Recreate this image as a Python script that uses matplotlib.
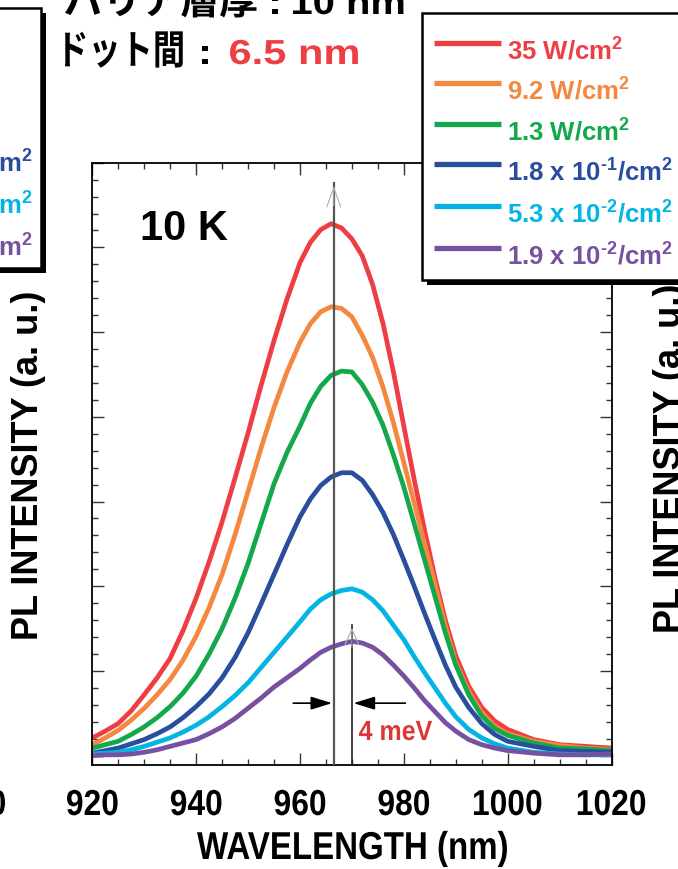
import matplotlib
matplotlib.use('Agg')
import matplotlib.pyplot as plt
from matplotlib.patches import Rectangle, PathPatch
from matplotlib.textpath import TextPath
from matplotlib.font_manager import FontProperties
from matplotlib.transforms import Affine2D
from matplotlib.ticker import MultipleLocator

plt.rcParams['font.family'] = ['Liberation Sans', 'DejaVu Sans']
plt.rcParams['font.weight'] = 'bold'
plt.rcParams['mathtext.fontset'] = 'custom'
plt.rcParams['mathtext.rm'] = 'Liberation Sans:bold'
plt.rcParams['mathtext.bf'] = 'Liberation Sans:bold'
plt.rcParams['mathtext.it'] = 'Liberation Sans:bold'

# PL spectra at 10 K, one per excitation power (arbitrary units)
wavelength = [920, 922.5, 925, 927.5, 930, 932.5, 935, 937.5, 940, 942.5, 945, 947.5,
              950, 952.5, 955, 957.5, 960, 962, 964, 966, 968, 970, 972, 974, 976, 978,
              980, 982, 984, 986, 988, 990, 992.5, 995, 997.5, 1000, 1005, 1010, 1015, 1020]
pl_35 = [0.21, 0.29, 0.38, 0.53, 0.72, 0.92, 1.15, 1.48, 1.86, 2.29, 2.76, 3.28,
         3.81, 4.37, 4.90, 5.39, 5.82, 6.06, 6.21, 6.28, 6.23, 6.10, 5.90, 5.56, 5.10, 4.53,
         3.89, 3.26, 2.66, 2.10, 1.60, 1.18, 0.82, 0.57, 0.41, 0.31, 0.19, 0.13, 0.11, 0.09]
pl_9_2 = [0.13, 0.21, 0.30, 0.42, 0.56, 0.72, 0.90, 1.13, 1.41, 1.75, 2.14, 2.61,
          3.12, 3.63, 4.11, 4.53, 4.88, 5.10, 5.24, 5.30, 5.28, 5.18, 4.96, 4.70, 4.35, 3.93,
          3.46, 2.98, 2.50, 2.02, 1.53, 1.10, 0.76, 0.51, 0.35, 0.26, 0.17, 0.12, 0.09, 0.07]
pl_1_3 = [0.09, 0.13, 0.17, 0.25, 0.34, 0.45, 0.58, 0.74, 0.94, 1.20, 1.50, 1.86,
          2.27, 2.74, 3.21, 3.58, 3.89, 4.16, 4.36, 4.49, 4.54, 4.53, 4.38, 4.17, 3.90, 3.55,
          3.17, 2.74, 2.31, 1.88, 1.45, 1.07, 0.72, 0.47, 0.32, 0.24, 0.15, 0.09, 0.08, 0.06]
pl_0_18 = [0.03, 0.06, 0.09, 0.14, 0.19, 0.26, 0.34, 0.45, 0.58, 0.73, 0.92, 1.16,
           1.45, 1.79, 2.14, 2.49, 2.82, 3.03, 3.19, 3.29, 3.34, 3.34, 3.25, 3.08, 2.87, 2.61,
           2.31, 2.00, 1.68, 1.37, 1.07, 0.81, 0.57, 0.38, 0.25, 0.17, 0.11, 0.06, 0.05, 0.04]
pl_0_053 = [0.02, 0.03, 0.04, 0.07, 0.11, 0.16, 0.21, 0.28, 0.36, 0.46, 0.58, 0.71,
            0.86, 1.04, 1.22, 1.40, 1.58, 1.73, 1.84, 1.91, 1.95, 1.97, 1.93, 1.84, 1.71, 1.54,
            1.37, 1.17, 0.98, 0.80, 0.62, 0.46, 0.31, 0.21, 0.14, 0.09, 0.04, 0.02, 0.01, 0.01]
pl_0_019 = [0.00, 0.01, 0.01, 0.02, 0.04, 0.07, 0.11, 0.15, 0.19, 0.26, 0.34, 0.44,
            0.56, 0.68, 0.81, 0.92, 1.03, 1.13, 1.22, 1.28, 1.32, 1.35, 1.33, 1.28, 1.19, 1.07,
            0.94, 0.80, 0.65, 0.52, 0.39, 0.29, 0.19, 0.13, 0.09, 0.06, 0.03, 0.01, 0.01, 0.02]

spectra = [pl_35, pl_9_2, pl_1_3, pl_0_18, pl_0_053, pl_0_019]
power_labels = [r'35 W/cm$^{2}$', r'9.2 W/cm$^{2}$', r'1.3 W/cm$^{2}$',
                r'1.8 x 10$^{\text{-}1}$/cm$^{2}$', r'5.3 x 10$^{\text{-}2}$/cm$^{2}$',
                r'1.9 x 10$^{\text{-}2}$/cm$^{2}$']
colors = ['#ee3e44', '#f5883f', '#13a84b', '#2a4e9e', '#04b5e3', '#7751a1']

xticks = [920, 940, 960, 980, 1000, 1020]
peak_high = 966.5   # peak at 35 W/cm2
peak_low = 970.0    # peak at 1.9e-2 W/cm2
shift_label = '4 meV'

W, H = 678, 869
fig = plt.figure(figsize=(W / 100, H / 100), dpi=100)
ax = fig.add_axes([92.3 / W, 1 - 765 / H, 519.2 / W, 602.3 / H])

for y, c in zip(spectra, colors):
    ax.plot(wavelength, y, color=c, lw=3.4, solid_joinstyle='round', zorder=2)

ymin, ymax = -0.11, 7.0
ax.set_xlim(920, 1020)
ax.set_ylim(ymin, ymax)
ax.set_xticks(xticks)
ax.xaxis.set_minor_locator(MultipleLocator(5))
ax.yaxis.set_major_locator(MultipleLocator(1))
ax.yaxis.set_minor_locator(MultipleLocator(0.2))
ax.tick_params(which='both', direction='in', top=True, right=True, color='#333333',
               width=1.0, labelleft=False, labelbottom=False)
ax.tick_params(which='major', length=8.4)
ax.tick_params(which='minor', length=4.3)
for s in ax.spines.values():
    s.set_linewidth(1.3)

# peak position markers
top_high = 6.76
top_low = 1.54
ax.plot([peak_high, peak_high], [ymin, top_high], color='#555555', lw=1.6, zorder=3)
ax.annotate('', xy=(peak_high, top_high), xytext=(peak_high, top_high - 0.3),
            arrowprops=dict(arrowstyle='->,head_length=1.4,head_width=0.5',
                            color='#b0b0b0', lw=0.8), zorder=3)
ax.plot([peak_low, peak_low], [ymin, top_low], color='#222222', lw=1.2, zorder=3)
ax.annotate('', xy=(peak_low, top_low), xytext=(peak_low, top_low - 0.3),
            arrowprops=dict(arrowstyle='->,head_length=1.1,head_width=0.5',
                            color='#b0b0b0', lw=0.8), zorder=3)

# arrows pointing at the 4 meV shift
y_arrow = 0.62
ax.annotate('', xy=(peak_high - 0.3, y_arrow), xytext=(958.7, y_arrow),
            arrowprops=dict(arrowstyle='-|>,head_length=1.3,head_width=0.4',
                            color='black', lw=1.2, shrinkA=0, shrinkB=0))
ax.annotate('', xy=(peak_low + 0.3, y_arrow), xytext=(980.3, y_arrow),
            arrowprops=dict(arrowstyle='-|>,head_length=1.3,head_width=0.4',
                            color='black', lw=1.2, shrinkA=0, shrinkB=0))

# overlay in pixel units for the labels, titles and legend boxes
ov = fig.add_axes([0, 0, 1, 1], zorder=5)
ov.set_xlim(0, W)
ov.set_ylim(H, 0)
ov.axis('off')


def path_text(x, y, s, size, sx=1.0, ha='left', color='black',
              family='Liberation Sans'):
    """Bold text as a filled path, squeezed or stretched horizontally by sx."""
    prop = FontProperties(family=family, weight='bold')
    tp = TextPath((0, 0), s, size=size * 100 / 72, prop=prop)
    ext = tp.get_extents()
    if ha == 'center':
        dx = -(ext.x0 + ext.x1) / 2 * sx
    elif ha == 'right':
        dx = -ext.x1 * sx
    else:
        dx = -ext.x0 * sx
    tr = Affine2D().scale(sx, -1).translate(x + dx, y) + ov.transData
    ov.add_patch(PathPatch(tp, transform=tr, fc=color, ec='none', lw=0, zorder=4))


# x tick labels
for t in xticks:
    px = ax.transData.transform((t, 0))[0]
    path_text(px, 815, str(t), 26, sx=0.88, ha='center')
path_text(5, 815, '1020', 26, sx=0.88, ha='right')

path_text(352, 859, 'WAVELENGTH (nm)', 28, sx=0.85, ha='center')
path_text(359, 740, shift_label, 20, sx=0.9, color='#dc3636')

ov.text(140, 240, '10 K', fontsize=30, fontweight='bold', va='baseline')
ov.text(29, 465, 'PL INTENSITY (a. u.)', fontsize=26, fontweight='bold',
        rotation=90, ha='center', va='center')
ov.text(671, 458, 'PL INTENSITY (a. u.)', fontsize=26, fontweight='bold',
        rotation=90, ha='center', va='center')

# heading
path_text(65, 14, 'バリア層厚', 28, sx=1.0, family='Noto Sans CJK JP')
path_text(272, 14, ':', 25, sx=1.2)
path_text(293, 14, '10 nm', 25, sx=1.15)
path_text(65, 64, 'ドット間', 29, sx=0.8, family='Noto Sans CJK JP')
path_text(202, 64, ':', 25, sx=1.2)
path_text(230, 64, '6.5 nm', 25, sx=1.2, color='#ec3e44')

# legend of the neighbouring panel (mostly off the left edge)
ov.add_patch(Rectangle((-295, 13), 341, 260, fc='black', ec='none', zorder=1))
ov.add_patch(Rectangle((-300, 8), 341, 260, fc='white', ec='black', lw=1.8, zorder=2))
# legend of this panel
ov.add_patch(Rectangle((426.5, 18.3), 300, 266.7, fc='black', ec='none', zorder=1))
ov.add_patch(Rectangle((421.7, 13.3), 300, 266.7, fc='white', ec='black', lw=1.8, zorder=2))

line_y = [42.7, 83.3, 124.3, 164.3, 206.0, 247.7]
for ly, lab, c in zip(line_y, power_labels, colors):
    ov.plot([434, 501], [ly, ly], color=c, lw=3.8, solid_capstyle='butt', zorder=3)
    ov.text(507, ly + 17, lab, color=c, fontsize=18.5, fontweight='bold',
            va='baseline', zorder=3)
    ov.plot([-206, -139], [ly - 9, ly - 9], color=c, lw=3.8, zorder=3)
    ov.text(-133, ly + 8, lab, color=c, fontsize=18.5, fontweight='bold',
            va='baseline', zorder=3)

fig.savefig('out.png', dpi=100)
